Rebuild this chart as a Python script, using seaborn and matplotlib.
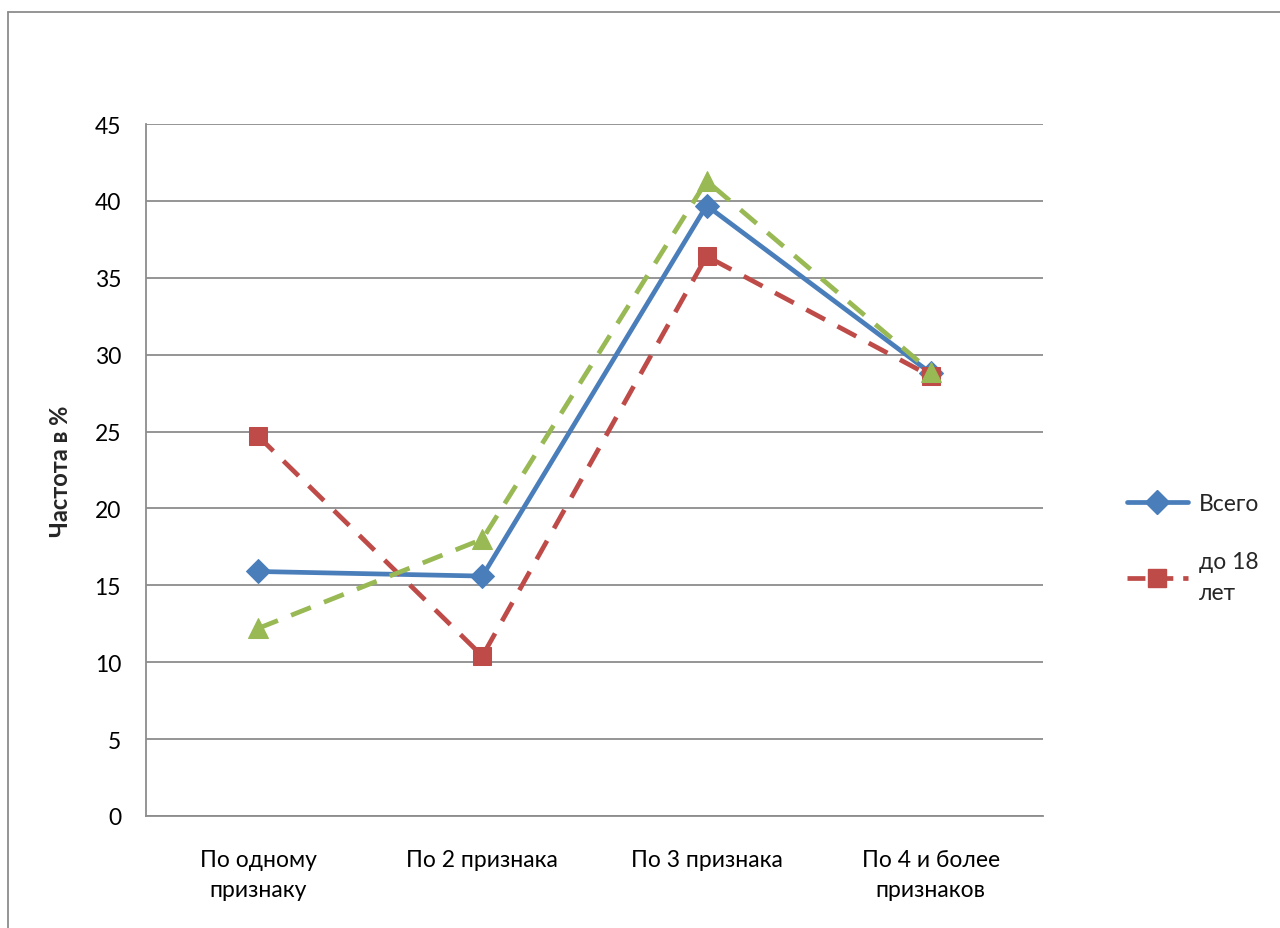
import matplotlib
matplotlib.use("Agg")
import matplotlib.pyplot as plt
import matplotlib.lines as mlines
import pandas as pd
import seaborn as sns

sns.set_style("white")
plt.rcParams['font.family'] = ['Lato', 'DejaVu Sans']

categories = ["По одному\nпризнаку", "По 2 признака", "По 3 признака", "По 4 и более\nпризнаков"]
vsego = [15.9, 15.6, 39.7, 28.8]
do18 = [24.7, 10.4, 36.4, 28.6]
green = [12.2, 18.0, 41.3, 28.9]
series_names = ["Всего", "до 18 лет", "старше 18 лет"]

df = pd.DataFrame({
    "cat": categories * 3,
    "val": vsego + do18 + green,
    "series": [series_names[0]] * 4 + [series_names[1]] * 4 + [series_names[2]] * 4,
})

colors = {"Всего": "#4A7EBB", "до 18 лет": "#BE4B48", "старше 18 лет": "#98B954"}
markers = {"Всего": "D", "до 18 лет": "s", "старше 18 лет": "^"}
msize = {"Всего": 12, "до 18 лет": 13, "старше 18 лет": 14}

fig = plt.figure(figsize=(12.8, 9.29), dpi=100)
ax = fig.add_axes([0.1141, 0.1206, 0.7007, 0.7448])

for name in series_names:
    sub = df[df.series == name]
    ls = "-" if name == "Всего" else (0, (4.5, 3.0))
    sns.lineplot(data=sub, x="cat", y="val", ax=ax, color=colors[name],
                 marker=markers[name], markersize=msize[name], linewidth=3.4,
                 linestyle=ls, markeredgecolor=colors[name], sort=False)

ax.set_xlim(-0.5, 3.5)
ax.set_ylim(0, 45)
ax.set_yticks(range(0, 46, 5))
ax.yaxis.grid(True, color="#8C8C8C", linewidth=1.3)
ax.set_axisbelow(True)
for s in ["top", "right"]:
    ax.spines[s].set_visible(False)
for s in ["left", "bottom"]:
    ax.spines[s].set_color("#8C8C8C")
    ax.spines[s].set_linewidth(1.3)
ax.tick_params(axis="y", labelsize=16.5, colors="black", length=0, pad=18)
ax.tick_params(axis="x", labelsize=16.5, colors="black", length=0, pad=24)
for lbl in ax.get_xticklabels():
    lbl.set_linespacing(1.5)
ax.set_xlabel("")
ax.set_ylabel("Частота в %", fontsize=17, fontweight="bold", labelpad=16)
if ax.get_legend():
    ax.get_legend().remove()

handles = [
    mlines.Line2D([], [], color=colors["Всего"], marker="D", markersize=12, linewidth=3.4),
    mlines.Line2D([], [], color=colors["до 18 лет"], marker="s", markersize=13, linewidth=3.4,
                  linestyle=(0, (3.8, 2.1))),
]
leg = fig.legend(handles, ["Всего", "до 18\nлет"], loc="upper left",
                 bbox_to_anchor=(0.864, 0.49), frameon=False, fontsize=16.5,
                 handlelength=2.7, labelspacing=1.6, handletextpad=0.45)
for t in leg.get_texts():
    t.set_linespacing(1.6)

# outer chart frame (left and top edges visible)
fig.add_artist(mlines.Line2D([0.0065, 0.0065], [0, 0.986], color="#8C8C8C", linewidth=1.3,
                             transform=fig.transFigure))
fig.add_artist(mlines.Line2D([0.0065, 1.0], [0.986, 0.986], color="#8C8C8C", linewidth=1.3,
                             transform=fig.transFigure))

fig.savefig("out.png", dpi=100)
